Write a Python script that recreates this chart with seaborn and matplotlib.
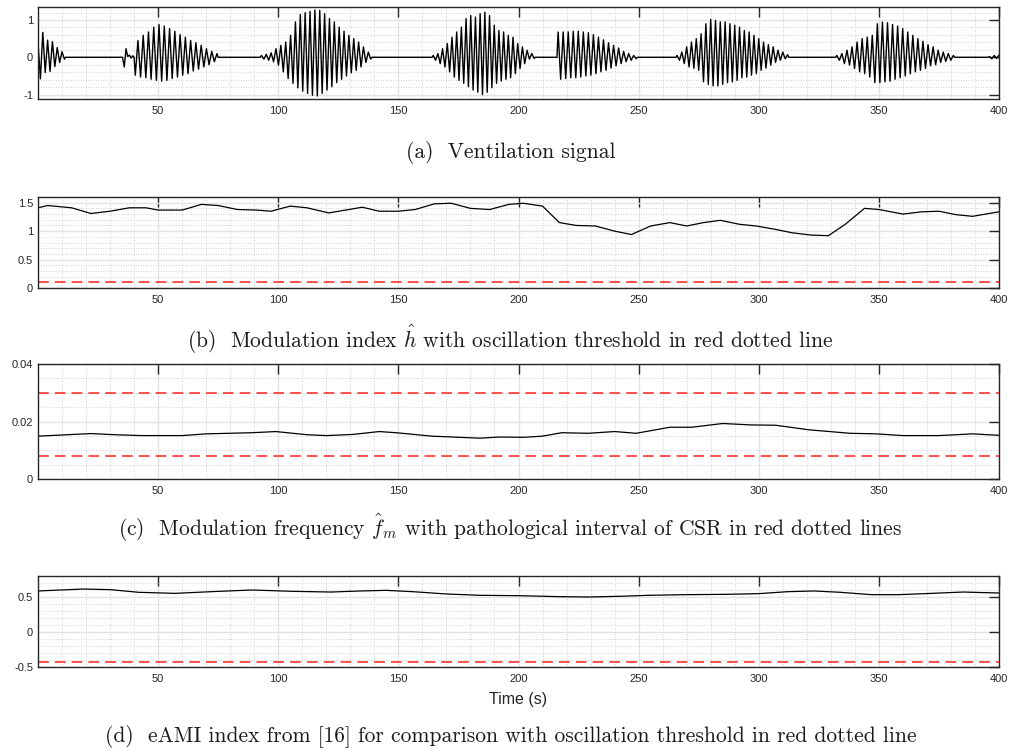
import numpy as np
import pandas as pd
import matplotlib
matplotlib.use("Agg")
import matplotlib.pyplot as plt
from matplotlib.ticker import MultipleLocator
import seaborn as sns

# ---------------- data ----------------
# Ventilation signal: each breathing episode is given by its start/end time (s)
# and the successive breath extrema (alternating inspiration / expiration).
vent_episodes = [
    (0.0, 11.0, [0.40, -0.58, 0.67, -0.41, 0.46, -0.38, 0.42, -0.25, 0.26, -0.14, 0.15, -0.05]),
    (35.2, 39.5, [0.0, -0.26, 0.23, 0.02, 0.06, -0.02, 0.04]),
    (40.5, 74.5, [-0.48, 0.45, -0.53, 0.59, -0.55, 0.68, -0.59, 0.81, -0.62, 0.88, -0.64, 0.84,
                  -0.62, 0.77, -0.57, 0.70, -0.53, 0.61, -0.48, 0.54, -0.44, 0.45, -0.37, 0.39,
                  -0.32, 0.32, -0.26, 0.23, -0.20, 0.16, -0.12, 0.10]),
    (93.0, 138.5, [0.05, -0.05, 0.08, -0.08, 0.12, -0.12, 0.23, -0.21, 0.32, -0.39, 0.41, -0.57,
                   0.59, -0.70, 0.95, -0.82, 1.15, -0.91, 1.20, -0.97, 1.23, -1.02, 1.27, -1.04,
                   1.26, -0.97, 1.17, -0.88, 1.04, -0.79, 0.95, -0.68, 0.81, -0.59, 0.70, -0.50,
                   0.59, -0.42, 0.50, -0.35, 0.41, -0.26, 0.28, -0.14, 0.14, -0.05]),
    (164.5, 206.5, [0.05, -0.08, 0.10, -0.17, 0.23, -0.26, 0.37, -0.39, 0.54, -0.53, 0.68, -0.62,
                    0.81, -0.70, 1.04, -0.79, 1.12, -0.88, 1.08, -0.94, 1.17, -1.00, 1.21, -0.94,
                    1.12, -0.82, 0.86, -0.70, 0.72, -0.64, 0.68, -0.59, 0.59, -0.55, 0.54, -0.44,
                    0.37, -0.30, 0.28, -0.17, 0.19, -0.05, 0.10, -0.03]),
    (216.5, 249.0, [0.68, -0.59, 0.68, -0.57, 0.68, -0.55, 0.70, -0.55, 0.70, -0.53, 0.68, -0.50,
                    0.66, -0.48, 0.61, -0.44, 0.54, -0.39, 0.47, -0.35, 0.39, -0.29, 0.32, -0.23,
                    0.25, -0.17, 0.16, -0.12, 0.10, -0.08, 0.05, -0.04]),
    (266.0, 312.0, [0.05, -0.08, 0.14, -0.17, 0.28, -0.26, 0.41, -0.30, 0.50, -0.35, 0.63, -0.66,
                    0.90, -0.73, 1.02, -0.77, 0.99, -0.77, 0.95, -0.73, 0.95, -0.68, 0.90, -0.66,
                    0.86, -0.62, 0.81, -0.55, 0.72, -0.53, 0.68, -0.48, 0.59, -0.44, 0.50, -0.35,
                    0.41, -0.29, 0.34, -0.21, 0.28, -0.14, 0.19, -0.08, 0.14, -0.04, 0.07]),
    (332.5, 381.0, [0.05, -0.08, 0.10, -0.17, 0.19, -0.21, 0.28, -0.30, 0.41, -0.39, 0.50, -0.44,
                    0.54, -0.53, 0.59, -0.68, 0.90, -0.68, 0.95, -0.66, 0.93, -0.64, 0.88, -0.59,
                    0.84, -0.55, 0.77, -0.50, 0.68, -0.44, 0.59, -0.39, 0.50, -0.35, 0.43, -0.30,
                    0.34, -0.23, 0.28, -0.20, 0.19, -0.14, 0.14, -0.11, 0.10, -0.08, 0.05]),
    (396.0, 400.0, [0.02, -0.04, 0.05, -0.03, 0.06]),
]

# Modulation index h
h_time = [0, 4, 14, 22, 30, 38, 45, 50, 60, 68, 75, 83, 91, 97, 105, 112, 121, 128, 135, 142,
          150, 157, 165, 172, 180, 188, 196, 202, 210, 217, 224, 232, 240, 247, 255, 263, 270,
          277, 284, 292, 299, 307, 314, 322, 329, 336, 344, 350, 360, 368, 375, 382, 389, 400]
h_value = [1.41, 1.45, 1.41, 1.31, 1.35, 1.41, 1.41, 1.37, 1.37, 1.47, 1.45, 1.38, 1.37, 1.35,
           1.44, 1.41, 1.32, 1.37, 1.42, 1.35, 1.35, 1.38, 1.48, 1.49, 1.40, 1.38, 1.47, 1.49,
           1.44, 1.15, 1.10, 1.09, 1.00, 0.94, 1.09, 1.15, 1.09, 1.15, 1.19, 1.12, 1.09, 1.03,
           0.97, 0.93, 0.92, 1.12, 1.40, 1.38, 1.30, 1.34, 1.35, 1.29, 1.26, 1.34]
h_threshold = 0.11

# Modulation frequency f_m
fm_time = [0, 22, 32, 43, 60, 70, 89, 99, 112, 120, 131, 142, 149, 164, 184, 192, 202, 210,
           218, 229, 240, 249, 263, 272, 285, 297, 307, 321, 338, 349, 360, 375, 389, 400]
fm_value = [0.0149, 0.0158, 0.0154, 0.0151, 0.0151, 0.0157, 0.0161, 0.0165, 0.0154, 0.0151,
            0.0155, 0.0165, 0.0161, 0.0149, 0.0142, 0.0146, 0.0145, 0.0149, 0.0161, 0.0159,
            0.0165, 0.0159, 0.0180, 0.0180, 0.0193, 0.0188, 0.0187, 0.0171, 0.0159, 0.0157,
            0.0151, 0.0151, 0.0157, 0.0152]
fm_interval = [0.008, 0.030]

# eAMI index
eami_time = [0, 19, 30, 42, 57, 72, 89, 106, 122, 134, 145, 156, 170, 184, 200, 217, 229,
             242, 254, 269, 286, 300, 312, 323, 334, 347, 358, 372, 385, 400]
eami_value = [0.586, 0.614, 0.605, 0.567, 0.552, 0.576, 0.600, 0.581, 0.571, 0.586, 0.595,
              0.576, 0.543, 0.524, 0.519, 0.505, 0.500, 0.510, 0.524, 0.533, 0.538, 0.548,
              0.576, 0.586, 0.567, 0.533, 0.533, 0.552, 0.571, 0.557]
eami_threshold = -0.43

captions = [
    "(a)  Ventilation signal",
    r"(b)  Modulation index $\hat{h}$ with oscillation threshold in red dotted line",
    r"(c)  Modulation frequency $\hat{f}_m$ with pathological interval of CSR in red dotted lines",
    "(d)  eAMI index from [16] for comparison with oscillation threshold in red dotted line",
]

# ---------------- assemble ventilation trace ----------------
vt, vv = [], []
for i, (t0, t1, vals) in enumerate(vent_episodes):
    ts = np.linspace(t0, t1, len(vals))
    if i > 0:
        vt.append(t0 - 0.5); vv.append(0.0)
    vt.extend(ts); vv.extend(vals)
    if t1 < 399:
        vt.append(t1 + 0.5); vv.append(0.0)
vent_df = pd.DataFrame({"t": vt, "v": vv})

# ---------------- style ----------------
sns.set_theme(style="white")
plt.rcParams["font.family"] = ["Liberation Sans", "DejaVu Sans"]
plt.rcParams["axes.unicode_minus"] = False
plt.rcParams["mathtext.fontset"] = "cm"

fig = plt.figure(figsize=(10.21, 7.52), dpi=100)

W = 1021.0
H = 752.0
left = 38 / W
width = (999 - 38) / W
boxes = [(7, 99), (197, 288), (364, 479), (576, 667)]
axes = []
for top, bot in boxes:
    ax = fig.add_axes([left, 1 - bot / H, width, (bot - top) / H])
    axes.append(ax)

edge = "#262626"


def style_axis(ax, ylim, yticks, yminor):
    ax.set_xlim(0, 400)
    ax.set_ylim(*ylim)
    ax.set_xticks(np.arange(50, 401, 50))
    ax.set_yticks(yticks)
    ax.set_yticklabels([f"{v:g}" for v in yticks])
    ax.xaxis.set_minor_locator(MultipleLocator(10))
    ax.yaxis.set_minor_locator(MultipleLocator(yminor))
    ax.grid(which="major", color="#e3e3e3", linewidth=1.0, linestyle="-")
    ax.grid(which="minor", color="#c4c4c4", linewidth=0.6, linestyle=(0, (1, 2)))
    ax.set_axisbelow(True)
    ax.tick_params(which="major", direction="in", length=7, width=1.0, color=edge,
                   top=True, right=True, labelsize=8, labelcolor=edge)
    ax.tick_params(axis="x", which="major", pad=5)
    ax.tick_params(axis="y", which="major", pad=3.5)
    ax.tick_params(which="minor", length=0)
    for s in ax.spines.values():
        s.set_color(edge)
        s.set_linewidth(1.0)
    ax.set_xlabel("")
    ax.set_ylabel("")


dash_style = dict(color="#ff2020", linewidth=1.1, linestyle=(0, (7, 4)))

# (a) ventilation
ax = axes[0]
sns.lineplot(data=vent_df, x="t", y="v", ax=ax, color="black", linewidth=1.0,
             sort=False, estimator=None)
style_axis(ax, (-1.12, 1.35), [-1, 0, 1], 0.2)

# (b) modulation index
ax = axes[1]
sns.lineplot(x=h_time, y=h_value, ax=ax, color="black", linewidth=0.9, estimator=None)
ax.axhline(h_threshold, **dash_style)
style_axis(ax, (0, 1.6), [0, 0.5, 1, 1.5], 0.1)

# (c) modulation frequency
ax = axes[2]
sns.lineplot(x=fm_time, y=fm_value, ax=ax, color="black", linewidth=0.9, estimator=None)
for v in fm_interval:
    ax.axhline(v, **dash_style)
style_axis(ax, (0, 0.04), [0, 0.02, 0.04], 0.005)

# (d) eAMI
ax = axes[3]
sns.lineplot(x=eami_time, y=eami_value, ax=ax, color="black", linewidth=0.9, estimator=None)
ax.axhline(eami_threshold, **dash_style)
style_axis(ax, (-0.5, 0.8), [-0.5, 0, 0.5], 0.1)
ax.set_xlabel("Time (s)", fontsize=11.5, color=edge, labelpad=6)

# sub-figure captions
cap_y = [1 - 153 / H, 1 - 339 / H, 1 - 528 / H, 1 - 736 / H]
for txt, y in zip(captions, cap_y):
    fig.text(0.5, y, txt, ha="center", va="center", fontsize=15.5,
             family="cmr10", color="#1a1a1a")

fig.savefig("out.png", dpi=100)
